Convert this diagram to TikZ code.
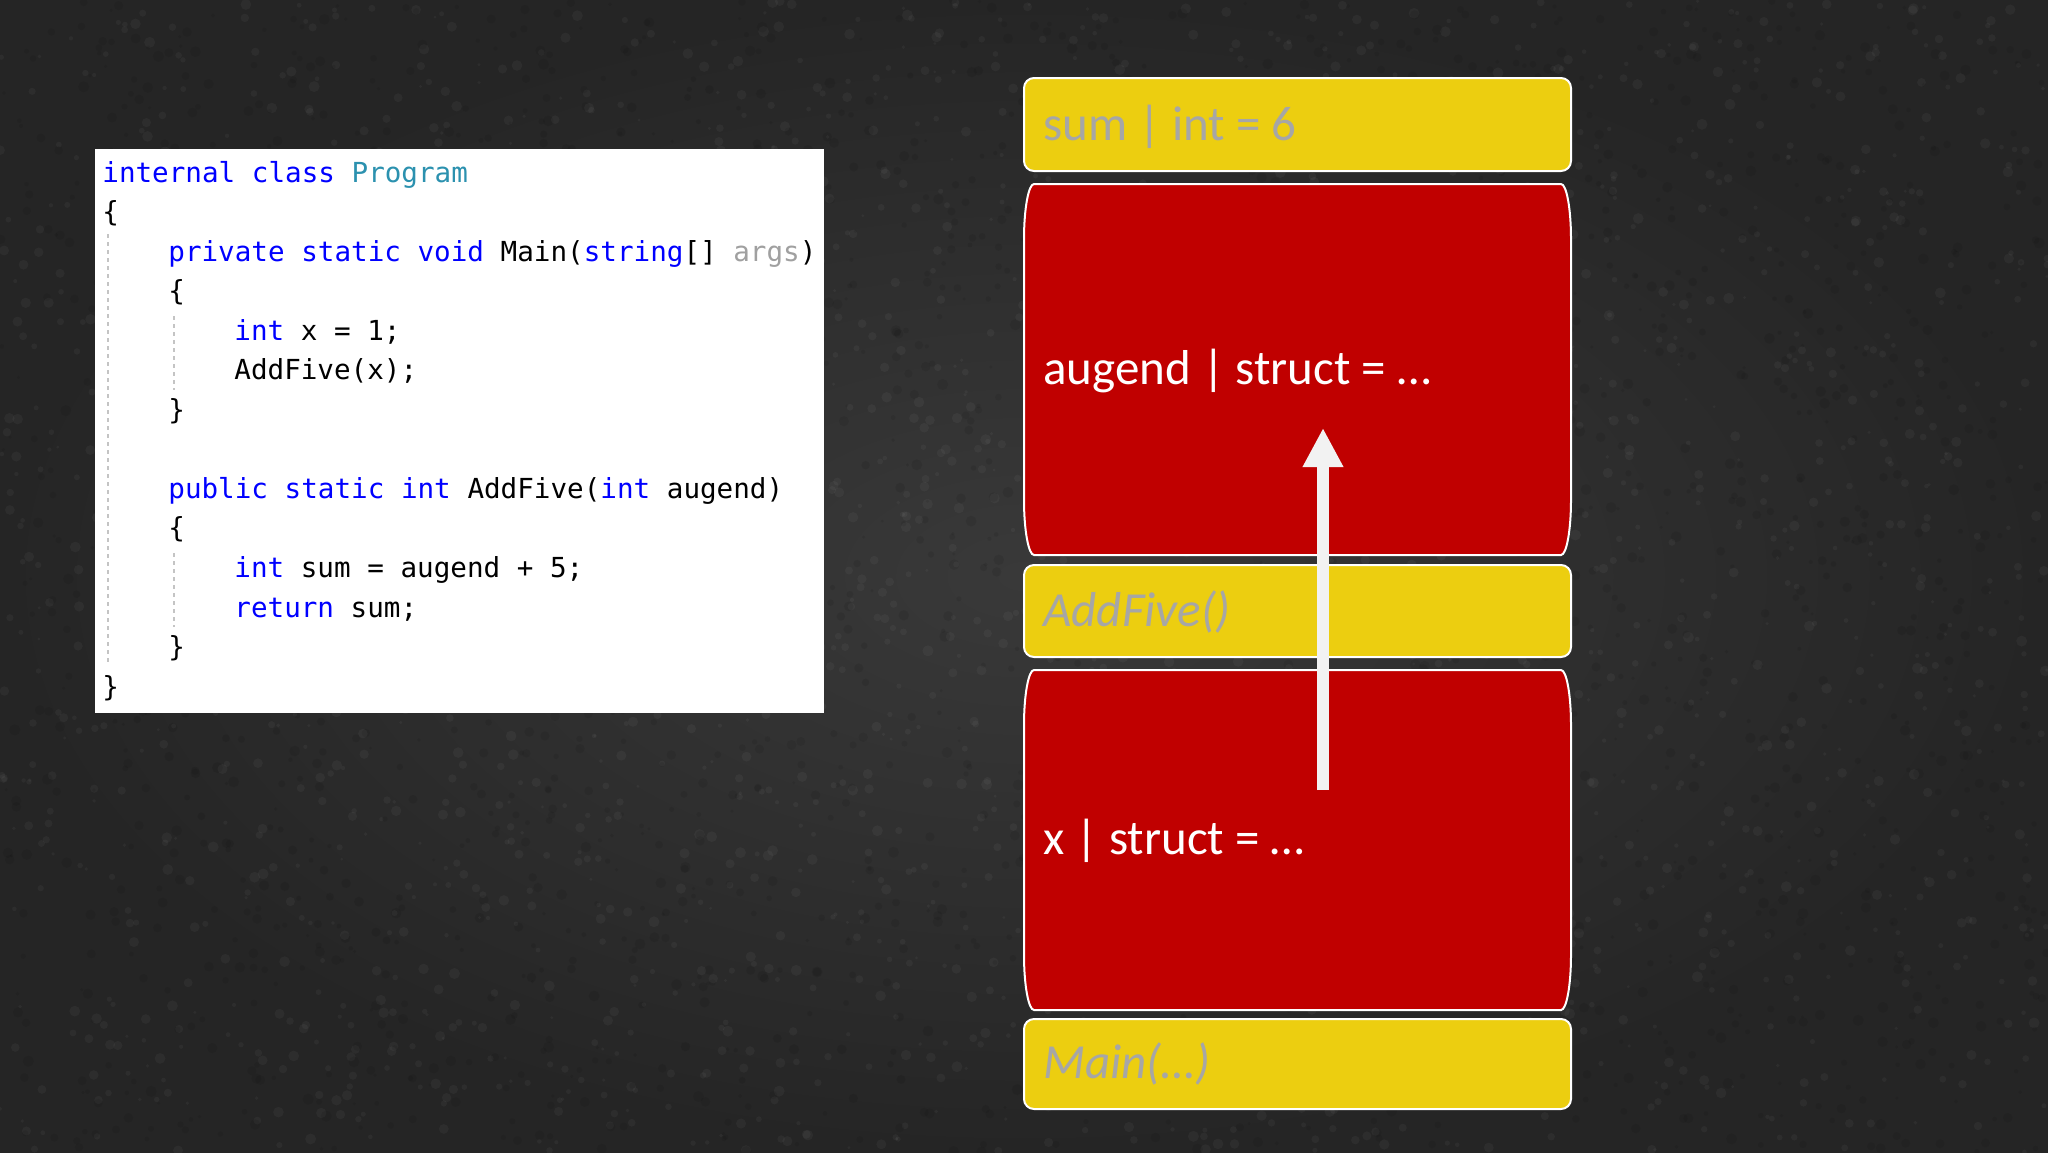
\documentclass[tikz,border=0pt]{standalone}
\usepackage{fontspec}
\usetikzlibrary{arrows.meta}
\newfontfamily\codefont{DejaVu Sans Mono}
\newfontfamily\stackfont{Carlito}
\definecolor{kwblue}{HTML}{0000FF}
\definecolor{typeteal}{HTML}{2B91AF}
\definecolor{argsgray}{HTML}{A0A0A0}
\definecolor{stackyellow}{HTML}{ECCE10}
\definecolor{stackred}{HTML}{C00000}
\definecolor{stackgray}{HTML}{A6A6A6}
\definecolor{arrowwhite}{HTML}{F2F2F2}
\definecolor{guidegray}{HTML}{C4C4C4}
\definecolor{bginner}{HTML}{393939}
\definecolor{bgouter}{HTML}{252525}
\begin{document}
\begin{tikzpicture}[x=0.5pt,y=-0.5pt,
  codeline/.style={anchor=base west, inner sep=0pt, font=\codefont\fontsize{13.8}{16}\selectfont},
  stacktext/.style={anchor=base west, inner sep=0pt, font=\stackfont\fontsize{24.5}{28}\selectfont},
  yellowbox/.style={fill=stackyellow, draw=white, line width=1pt, rounded corners=5pt},
  redbox/.style={fill=stackred, draw=white, line width=1pt},
  guide/.style={draw=guidegray, line width=0.6pt, dash pattern=on 2pt off 2pt},
  flowarrow/.style={draw=arrowwhite, line width=6pt, -{Triangle[width=19pt,length=19.5pt]}}]
\useasboundingbox (0,0) rectangle (2048,1152);
\shade[inner color=bginner, outer color=bgouter] (0,0) rectangle (2048,1152);
% stone-like texture
\pgfmathsetseed{7}
\begin{scope}
\clip (0,0) rectangle (2048,1152);
\foreach \i in {1,...,2400}{
  \pgfmathsetmacro\tx{rnd*2048}
  \pgfmathsetmacro\ty{rnd*1152}
  \pgfmathsetmacro\tr{1.5+rnd*4}
  \fill[white, opacity=0.04] (\tx,\ty) circle (\tr);
}
\foreach \i in {1,...,2400}{
  \pgfmathsetmacro\tx{rnd*2048}
  \pgfmathsetmacro\ty{rnd*1152}
  \pgfmathsetmacro\tr{1.5+rnd*4}
  \fill[black, opacity=0.08] (\tx,\ty) circle (\tr);
}
\end{scope}

% code panel
\fill[white] (95,149) rectangle (824,713);
\draw[guide] (108,234) -- (108,664);
\draw[guide] (174,316) -- (174,390);
\draw[guide] (174,553) -- (174,627);
\node[codeline] (l0) at (102,182) {\textcolor{kwblue}{internal class} \textcolor{typeteal}{Program}};
\node[codeline] (l1) at (102,221.55) {\{};
\node[codeline] (l2) at (168,261.1) {\textcolor{kwblue}{private static void} Main(\textcolor{kwblue}{string}[] \textcolor{argsgray}{args})};
\node[codeline] (l3) at (168,300.65) {\{};
\node[codeline] (l4) at (234,340.2) {\textcolor{kwblue}{int} x = 1;};
\node[codeline] (l5) at (234,379.75) {AddFive(x);};
\node[codeline] (l6) at (168,419.3) {\}};
\node[codeline] (l8) at (168,498.4) {\textcolor{kwblue}{public static int} AddFive(\textcolor{kwblue}{int} augend)};
\node[codeline] (l9) at (168,537.95) {\{};
\node[codeline] (l10) at (234,577.5) {\textcolor{kwblue}{int} sum = augend + 5;};
\node[codeline] (l11) at (234,617.05) {\textcolor{kwblue}{return} sum;};
\node[codeline] (l12) at (168,656.6) {\}};
\node[codeline] (l13) at (102,696.15) {\}};

% stack
\draw[yellowbox] (1024,78) rectangle (1571,171);
\draw[redbox] (1034,184) -- (1561,184)
  .. controls (1566.5,184) and (1571,208.75) .. (1571,239) -- (1571,500)
  .. controls (1571,530.25) and (1566.5,555) .. (1561,555) -- (1034,555)
  .. controls (1028.5,555) and (1024,530.25) .. (1024,500) -- (1024,239)
  .. controls (1024,208.75) and (1028.5,184) .. (1034,184) -- cycle;
\draw[yellowbox] (1024,565) rectangle (1571,657);
\draw[redbox] (1034,670) -- (1561,670)
  .. controls (1566.5,670) and (1571,694.75) .. (1571,725) -- (1571,955)
  .. controls (1571,985.25) and (1566.5,1010) .. (1561,1010) -- (1034,1010)
  .. controls (1028.5,1010) and (1024,985.25) .. (1024,955) -- (1024,725)
  .. controls (1024,694.75) and (1028.5,670) .. (1034,670) -- cycle;
\draw[yellowbox] (1024,1019) rectangle (1571,1109);

\node[stacktext, text=stackgray] (sumtxt) at (1043,140) {sum | int = 6};
\node[stacktext, text=white] (augtxt) at (1043,384) {augend | struct = …};
\node[stacktext, text=stackgray, font=\stackfont\itshape\fontsize{24.5}{28}\selectfont] (addtxt) at (1043,626) {AddFive()};
\node[stacktext, text=white] (xtxt) at (1043,854) {x | struct = …};
\node[stacktext, text=stackgray, font=\stackfont\itshape\fontsize{24.5}{28}\selectfont] (maintxt) at (1043,1078) {Main(…)};

\coordinate (arrowfoot) at (1323,790);
\coordinate (arrowtip) at (1323,428);
\draw[flowarrow] (arrowfoot) -- (arrowtip);
\end{tikzpicture}
\end{document}
